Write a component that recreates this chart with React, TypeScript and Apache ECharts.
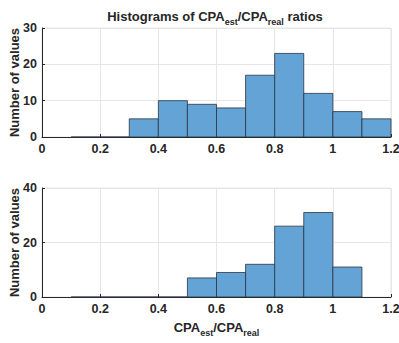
import React, { useEffect, useRef } from "react";
import * as echarts from "echarts";

const binEdges = [0.1, 0.2, 0.3, 0.4, 0.5, 0.6, 0.7, 0.8, 0.9, 1.0, 1.1, 1.2];
const countsTop = [0, 0, 5, 10, 9, 8, 17, 23, 12, 7, 5];
const countsBottom = [0, 0, 0, 0, 7, 9, 12, 26, 31, 11];
const xTicks = [0, 0.2, 0.4, 0.6, 0.8, 1, 1.2];

const FONT = "Liberation Sans, Arial, sans-serif";
const FILL = "#63a3d5";
const EDGE = "#2b3440";

function toBins(counts: number[]) {
  return counts.map((c, i) => [binEdges[i], binEdges[i + 1], c]);
}

function renderItem(params: any, api: any) {
  const x0 = api.value(0);
  const x1 = api.value(1);
  const c = api.value(2);
  const p0 = api.coord([x0, c]);
  const p1 = api.coord([x1, 0]);
  return {
    type: "rect",
    shape: { x: p0[0], y: p0[1], width: p1[0] - p0[0], height: p1[1] - p0[1] },
    style: { fill: FILL, stroke: EDGE, lineWidth: 0.8 },
  };
}

const axisLabelStyle = { color: "#262626", fontFamily: FONT, fontWeight: "bold", fontSize: 12.5 };
const subRich = {
  n: { fontFamily: FONT, fontWeight: "bold", fontSize: 13, color: "#262626" },
  s: { fontFamily: FONT, fontWeight: "bold", fontSize: 9, color: "#262626", padding: [10, 0, 0, 0] },
};

function xAxis(gridIndex: number, withName: boolean) {
  return {
    type: "value",
    gridIndex,
    min: 0,
    max: 1.2,
    interval: 0.2,
    axisLine: { show: true, lineStyle: { color: "#262626", width: 1 } },
    axisTick: { show: true, inside: true, length: 3, lineStyle: { color: "#262626" } },
    axisLabel: {
      ...axisLabelStyle,
      margin: 5,
      formatter: (v: number) => {
        const t = xTicks.find((k) => Math.abs(k - v) < 1e-6);
        return t === undefined ? "" : String(t);
      },
    },
    splitLine: { show: true, lineStyle: { color: "#e6e6e6", width: 1 } },
    name: withName ? "{n|CPA}{s|est}{n|/CPA}{s|real}" : "",
    nameLocation: "middle",
    nameGap: 21,
    nameMoveOverlap: false,
    nameTextStyle: { rich: subRich },
  };
}

function yAxis(gridIndex: number, max: number, interval: number) {
  return {
    type: "value",
    gridIndex,
    min: 0,
    max,
    interval,
    axisLine: { show: true, lineStyle: { color: "#262626", width: 1 } },
    axisTick: { show: true, inside: true, length: 3, lineStyle: { color: "#262626" } },
    axisLabel: { ...axisLabelStyle, margin: 5 },
    splitLine: { show: true, lineStyle: { color: "#e6e6e6", width: 1 } },
    name: "Number of values",
    nameLocation: "middle",
    nameGap: 21,
    nameMoveOverlap: false,
    nameTextStyle: { fontFamily: FONT, fontWeight: "bold", fontSize: 13, color: "#262626" },
  };
}

export default function App() {
  const ref = useRef<HTMLDivElement>(null);
  useEffect(() => {
    if (!ref.current) return;
    const chart = echarts.init(ref.current, undefined, { renderer: "svg" });
    chart.setOption({
      animation: false,
      backgroundColor: "#ffffff",
      title: {
        text: "{n|Histograms of CPA}{s|est}{n|/CPA}{s|real}{n| ratios}",
        left: 210,
        textAlign: "center",
        top: 2,
        textStyle: { rich: subRich },
      },
      grid: [
        { left: 42, right: 8, top: 28, height: 109, show: true, borderColor: "#e6e6e6", borderWidth: 1, outerBoundsMode: "none", containLabel: false },
        { left: 42, right: 8, top: 188, height: 109, show: true, borderColor: "#e6e6e6", borderWidth: 1, outerBoundsMode: "none", containLabel: false },
      ],
      xAxis: [xAxis(0, false), xAxis(1, true)],
      yAxis: [yAxis(0, 30, 10), yAxis(1, 40, 20)],
      series: [
        { type: "custom", xAxisIndex: 0, yAxisIndex: 0, renderItem, encode: { x: [0, 1], y: 2 }, data: toBins(countsTop) },
        { type: "custom", xAxisIndex: 1, yAxisIndex: 1, renderItem, encode: { x: [0, 1], y: 2 }, data: toBins(countsBottom) },
      ],
    });
    return () => chart.dispose();
  }, []);
  return <div ref={ref} style={{ position: "absolute", left: 0, top: 0, width: 399, height: 343 }} />;
}
